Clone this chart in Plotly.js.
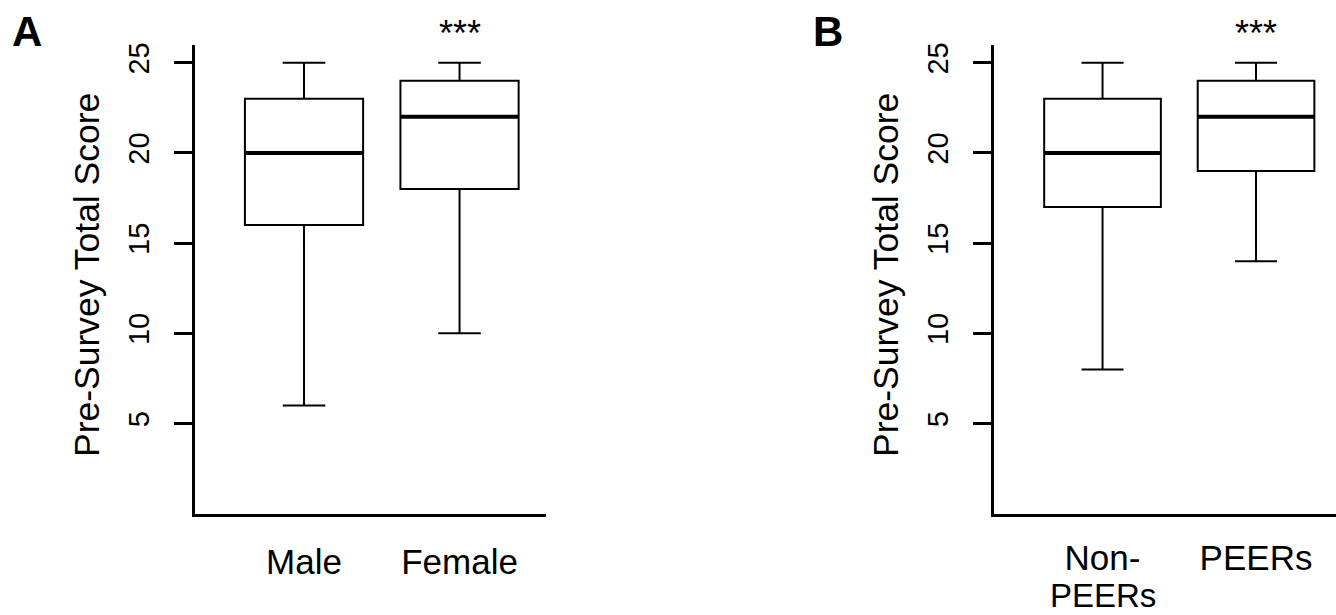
<!DOCTYPE html>
<html>
<head>
<meta charset="utf-8">
<script src="https://cdn.plot.ly/plotly-3.0.1.min.js"></script>
<style>html,body{margin:0;padding:0;background:#fff;}#chart{width:1336px;height:615px;}</style>
</head>
<body>
<div id="chart"></div>
<script>
// ---- Data ----
const categoriesA = ['Male', 'Female'];
const lowerA = [6, 10];
const q1A = [16, 18];
const medianA = [20, 22];
const q3A = [23, 24];
const upperA = [25, 25];

const categoriesB = ['Non-PEERs', 'PEERs'];
const tickLabelsB = ['Non-', 'PEERs'];      // first line of each tick label
const tickLabelsB2 = ['PEERs', ''];         // second (wrapped) line
const lowerB = [8, 14];
const q1B = [17, 19];
const medianB = [20, 22];
const q3B = [23, 24];
const upperB = [25, 25];

const yTicks = [5, 10, 15, 20, 25];
const yTickLabels = ['5', '10', '15', '20', '25'];
const yTitle = 'Pre-Survey Total Score';
const sigLabels = ['***', '***'];
const panelLabels = ['A', 'B'];

// ---- Layout helpers ----
const W = 1336, H = 615;
const FONT = 'Liberation Sans, Arial, Helvetica, sans-serif';
const boxW = 0.76;
const px = v => v / W;
const py = v => (H - v) / H;

function boxTrace(cats, lo, q1, med, q3, up, xa, ya) {
  return {
    type: 'box',
    x: cats.map((c, i) => i),
    lowerfence: lo, q1: q1, median: med, q3: q3, upperfence: up,
    width: boxW,
    whiskerwidth: 0.36,
    boxpoints: false,
    fillcolor: 'rgba(0,0,0,0)',
    line: {color: '#000', width: 2},
    xaxis: xa, yaxis: ya,
    hoverinfo: 'skip',
    showlegend: false
  };
}

function medianShapes(med, xref, yref) {
  return med.map((m, i) => ({
    type: 'line', xref: xref, yref: yref,
    x0: i - boxW / 2, x1: i + boxW / 2, y0: m, y1: m,
    line: {color: '#000', width: 4}
  }));
}

const yDomain = [py(513.7), py(44.7)];
function yAxis(anchor) {
  return {
    domain: yDomain, anchor: anchor,
    range: [0, 26],
    showline: true, linewidth: 3, linecolor: '#000',
    ticks: 'outside', ticklen: 18, tickwidth: 3, tickcolor: '#000',
    tickvals: yTicks, ticktext: yTickLabels,
    tickangle: -90,
    tickfont: {family: FONT, size: 29, color: '#000'},
    ticklabelstandoff: 13,
    showgrid: false, zeroline: false, fixedrange: true
  };
}
function xAxis(domain, range, labels, anchor, standoff) {
  return {
    domain: domain, anchor: anchor,
    range: range,
    showline: true, linewidth: 3, linecolor: '#000',
    ticks: '', tickvals: labels.map((l, i) => i), ticktext: labels,
    tickfont: {family: FONT, size: 35, color: '#000'},
    ticklabelstandoff: standoff,
    showgrid: false, zeroline: false, fixedrange: true
  };
}

const data = [
  boxTrace(categoriesA, lowerA, q1A, medianA, q3A, upperA, 'x', 'y'),
  boxTrace(categoriesB, lowerB, q1B, medianB, q3B, upperB, 'x2', 'y2')
];

const annotations = [
  {text: panelLabels[0], xref: 'paper', yref: 'paper', x: px(27), y: py(32), xanchor: 'center', yanchor: 'middle', showarrow: false, font: {family: FONT, size: 42, color: '#000', weight: 'bold'}},
  {text: panelLabels[1], xref: 'paper', yref: 'paper', x: px(828), y: py(32), xanchor: 'center', yanchor: 'middle', showarrow: false, font: {family: FONT, size: 42, color: '#000', weight: 'bold'}},
  {text: yTitle, xref: 'paper', yref: 'paper', x: px(87), y: py(275), textangle: -90, xanchor: 'center', yanchor: 'middle', showarrow: false, font: {family: FONT, size: 35.5, color: '#000'}},
  {text: yTitle, xref: 'paper', yref: 'paper', x: px(886), y: py(275), textangle: -90, xanchor: 'center', yanchor: 'middle', showarrow: false, font: {family: FONT, size: 35.5, color: '#000'}},
  {text: sigLabels[0], xref: 'x', yref: 'paper', x: 1, y: py(33), xanchor: 'center', yanchor: 'middle', showarrow: false, font: {family: FONT, size: 36, color: '#000'}},
  {text: sigLabels[1], xref: 'x2', yref: 'paper', x: 1, y: py(33), xanchor: 'center', yanchor: 'middle', showarrow: false, font: {family: FONT, size: 36, color: '#000'}}
];
tickLabelsB2.forEach((t, i) => {
  if (t) annotations.push({text: t, xref: 'x2', yref: 'paper', x: i, y: 0, xanchor: 'center', yanchor: 'bottom', showarrow: false, borderpad: 0, font: {family: FONT, size: 33, color: '#000'}});
});

const layout = {
  width: W, height: H,
  margin: {l: 0, r: 0, t: 0, b: 0},
  paper_bgcolor: '#fff', plot_bgcolor: '#fff',
  showlegend: false,
  xaxis: xAxis([px(195), px(545.7)], [-0.701, 1.554], categoriesA, 'y', 15),
  yaxis: yAxis('x'),
  xaxis2: xAxis([px(994), 1], [-0.707, 1.521], tickLabelsB, 'y2', 11),
  yaxis2: yAxis('x2'),
  shapes: [].concat(medianShapes(medianA, 'x', 'y'), medianShapes(medianB, 'x2', 'y2')),
  annotations: annotations
};

Plotly.newPlot('chart', data, layout, {staticPlot: true, displayModeBar: false});
</script>
</body>
</html>
